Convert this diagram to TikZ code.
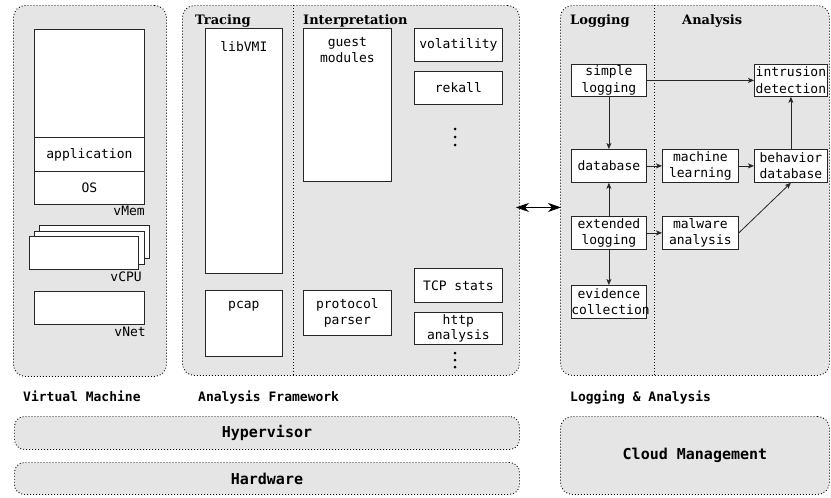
\documentclass[tikz,border=0pt]{standalone}
\usepackage{fontspec}
\setmonofont{DejaVu Sans Mono}
\newfontfamily\hdrfont{DejaVu Serif}
\usetikzlibrary{arrows.meta}
\begin{document}
\begin{tikzpicture}[x=1pt,y=-1pt,
  cont/.style={draw=black, fill=gray!20, line width=0.9pt, dash pattern=on 0.9pt off 2.1pt, rounded corners=12pt, anchor=north west, inner sep=0pt},
  divider/.style={draw=black, line width=0.8pt, dash pattern=on 0.8pt off 2.2pt},
  box/.style={draw=black!85, fill=white, line width=0.8pt, anchor=north west, inner sep=0pt, align=center,
    font=\ttfamily\fontsize{13}{16.5}\selectfont},
  txt/.style={inner sep=0pt, align=center, font=\ttfamily\fontsize{13}{16.5}\selectfont},
  hdr/.style={inner sep=0pt, anchor=base west, font=\hdrfont\bfseries\fontsize{13}{15}\selectfont},
  captxt/.style={inner sep=0pt, anchor=base west, font=\ttfamily\bfseries\fontsize{13}{15}\selectfont},
  big/.style={inner sep=0pt, font=\ttfamily\bfseries\fontsize{15}{18}\selectfont},
  arr/.style={draw=black!85, line width=0.8pt, -{Stealth[length=6pt,width=5pt,inset=1.5pt]}},
  dbl/.style={draw=black, line width=0.8pt, {Stealth[length=13pt,width=9pt,inset=4pt]}-{Stealth[length=13pt,width=9pt,inset=4pt]}},
  dotfill/.style={fill=black}
]
\useasboundingbox (0,0) rectangle (831,498);

% containers
\node[cont, minimum width=153pt, minimum height=371pt] (vm) at (13,5) {};
\node[cont, minimum width=337pt, minimum height=370pt] (af) at (182,5) {};
\node[cont, minimum width=269pt, minimum height=370pt] (la) at (560,5) {};
\node[cont, rounded corners=10pt, minimum width=505pt, minimum height=33pt] (hyp) at (14,416) {};
\node[cont, rounded corners=10pt, minimum width=505pt, minimum height=32pt] (hw) at (14,462) {};
\node[cont, rounded corners=12pt, minimum width=269pt, minimum height=78pt] (cloud) at (560,416) {};
\node[big] (hyptxt) at (hyp.center) {Hypervisor};
\node[big] (hwtxt) at (hw.center) {Hardware};
\node[big] (cloudtxt) at (cloud.center) {Cloud Management};

% dividers
\draw[divider] (293,5) -- (293,375);
\draw[divider] (654,5) -- (654,375);

% headers
\node[hdr] (trh) at (195,24) {Tracing};
\node[hdr] (inh) at (303,24) {Interpretation};
\node[hdr] (lgh) at (570,24) {Logging};
\node[hdr] (anh) at (682,24) {Analysis};

% captions
\node[captxt] (vmcap) at (23,401) {Virtual Machine};
\node[captxt] (afcap) at (198,401) {Analysis Framework};
\node[captxt] (lacap) at (570,401) {Logging \& Analysis};

% virtual machine
\node[box, minimum width=110pt, minimum height=175pt] (vmem) at (34,29) {};
\node[box, minimum width=110pt, minimum height=34pt] (app) at (34,137) {application};
\node[box, minimum width=110pt, minimum height=33pt] (os) at (34,171) {OS};
\node[txt, anchor=base east] (vmemlbl) at (145,215) {vMem};
\node[box, minimum width=110pt, minimum height=33pt] (cpu3) at (39,225) {};
\node[box, minimum width=110pt, minimum height=33pt] (cpu2) at (34,230.5) {};
\node[box, minimum width=109pt, minimum height=33pt] (cpu1) at (29,236) {};
\node[txt, anchor=base east] (cpulbl) at (142,281) {vCPU};
\node[box, minimum width=110pt, minimum height=33pt] (vnet) at (34,291) {};
\node[txt, anchor=base east] (vnetlbl) at (146,336) {vNet};

% analysis framework
\node[box, minimum width=77pt, minimum height=245pt] (libvmi) at (205,28) {};
\node[txt] (libvmitxt) at ([yshift=-19pt]libvmi.north) {libVMI};
\node[box, minimum width=77pt, minimum height=66pt] (pcap) at (205,290) {};
\node[txt] (pcaptxt) at ([yshift=-16pt]pcap.north) {pcap};
\node[box, minimum width=88pt, minimum height=153pt] (guest) at (303,28) {};
\node[txt, anchor=north] (guesttxt) at ([yshift=-9pt]guest.north) {guest\\modules};
\node[box, minimum width=88pt, minimum height=45pt, text width=88pt] (proto) at (303,290) {protocol\\parser};
\node[box, minimum width=88pt, minimum height=33pt] (vol) at (414,28) {volatility};
\node[box, minimum width=88pt, minimum height=33pt] (rek) at (414,71) {rekall};
\node[box, minimum width=88pt, minimum height=34pt] (tcp) at (414,268) {TCP stats};
\node[box, minimum width=88pt, minimum height=32pt, text width=88pt, font=\ttfamily\fontsize{13}{15}\selectfont] (http) at (414,312) {http\\analysis};
\foreach \yy in {129,137,145} \fill[dotfill] (455,\yy) circle (1.5pt);
\foreach \yy in {353,360,367} \fill[dotfill] (455,\yy) circle (1.5pt);

% logging & analysis
\node[box, minimum width=75pt, minimum height=32pt, text width=75pt] (simple) at (571,64) {simple\\logging};
\node[box, minimum width=75pt, minimum height=33pt, text width=75pt] (db) at (571,149) {database};
\node[box, minimum width=75pt, minimum height=33pt, text width=75pt] (ext) at (571,216) {extended\\logging};
\node[box, minimum width=75pt, minimum height=33pt, text width=75pt] (evid) at (571,285) {evidence\\collection};
\node[box, minimum width=76pt, minimum height=33pt, text width=76pt] (ml) at (662,149) {machine\\learning};
\node[box, minimum width=76pt, minimum height=33pt, text width=76pt] (mal) at (662,216) {malware\\analysis};
\node[box, minimum width=73pt, minimum height=32pt, text width=73pt] (ids) at (754,64) {intrusion\\detection};
\node[box, minimum width=73pt, minimum height=33pt, text width=73pt] (beh) at (754,149) {behavior\\database};

% connectors
\draw[arr] (simple.east) -- (ids.west);
\draw[arr] (simple.south) -- (db.north);
\draw[arr] (ext.north) -- (db.south);
\draw[arr] (ext.south) -- (evid.north);
\draw[arr] (db.east) -- (ml.west);
\draw[arr] (ext.east) -- (mal.west);
\draw[arr] (ml.east) -- (beh.west);
\draw[arr] (mal.east) -- (beh.south);
\draw[arr] (beh.north) -- (ids.south);
\draw[dbl] ([yshift=-17pt,xshift=-4pt]af.east) -- ([yshift=-17pt,xshift=1pt]la.west);
\end{tikzpicture}
\end{document}
